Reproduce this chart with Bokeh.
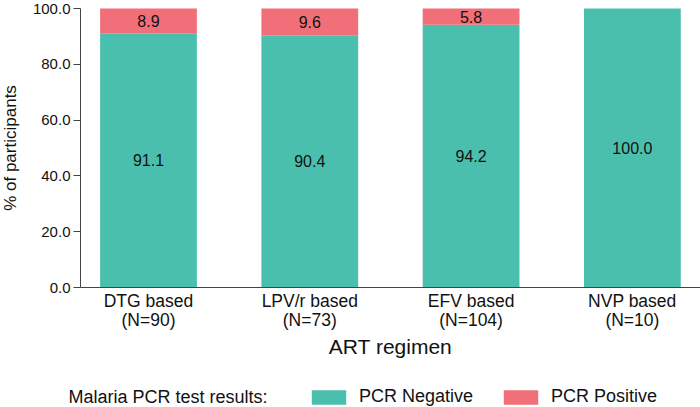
import numpy as np
from bokeh.plotting import figure
from bokeh.models import (ColumnDataSource, FixedTicker, Legend, LegendItem,
                          LabelSet, Label, Range1d)
from bokeh.core.properties import value
from bokeh.embed import file_html
from bokeh.resources import INLINE

# ---- data ----
categories = ["DTG based\n(N=90)", "LPV/r based\n(N=73)",
              "EFV based\n(N=104)", "NVP based\n(N=10)"]
pcr_negative = [91.1, 90.4, 94.2, 100.0]
pcr_positive = [8.9, 9.6, 5.8, 0.0]
y_ticks = [0, 20, 40, 60, 80, 100]
series_names = ["PCR Negative", "PCR Positive"]
legend_title = "Malaria PCR test results:"

FONT = "Liberation Sans"
TEAL = "#4bbfad"
SALMON = "#f06f78"
TXT = "#111111"
AX = "#444444"

W, H = 700, 407
# view window (data units) chosen so that the axes sit where the reference has them
X0, X1 = -0.9175, 3.4223
Y0, Y1 = -43.01, 102.87
Y_AXIS_AT = -0.4216

x = np.arange(len(categories))
src = ColumnDataSource(dict(x=x, neg=pcr_negative, pos=pcr_positive))

p = figure(width=W, height=H, output_backend="svg", toolbar_location=None,
           x_range=Range1d(X0, X1), y_range=Range1d(Y0, Y1),
           min_border=0)
p.outline_line_color = None
p.grid.visible = False

rs = p.vbar_stack(["neg", "pos"], x="x", width=0.6, source=src,
                  color=[TEAL, SALMON], line_color=None)

# labels inside segments
neg_arr = np.array(pcr_negative)
pos_arr = np.array(pcr_positive)
lab_x = list(x) + [xi for xi, v in zip(x, pos_arr) if v > 0]
lab_y = list(neg_arr / 2) + [n + v / 2 for n, v in zip(neg_arr, pos_arr) if v > 0]
lab_t = [f"{v:.1f}" for v in neg_arr] + [f"{v:.1f}" for v in pos_arr if v > 0]
lsrc = ColumnDataSource(dict(x=lab_x, y=lab_y, t=lab_t))
p.add_layout(LabelSet(x="x", y="y", text="t", source=lsrc,
                      text_align="center", text_baseline="middle",
                      text_font=value(FONT), text_font_size="16px",
                      text_color=TXT))

# axes (pinned at the data origin)
xa = p.xaxis[0]
xa.fixed_location = 0
xa.bounds = (Y_AXIS_AT, X1)
xa.ticker = FixedTicker(ticks=list(x))
xa.major_label_overrides = {int(i): c for i, c in zip(x, categories)}
xa.major_tick_line_color = None
xa.minor_tick_line_color = None
xa.major_tick_out = 0
xa.major_tick_in = 0
xa.major_label_standoff = 3
xa.major_label_text_font = FONT
xa.major_label_text_font_size = "17.5px"
xa.major_label_text_line_height = 0.95
xa.major_label_text_color = TXT
xa.axis_label = "ART regimen"
xa.axis_label_text_font = FONT
xa.axis_label_text_font_size = "21px"
xa.axis_label_text_font_style = "normal"
xa.axis_label_text_color = TXT
xa.axis_label_standoff = 2
xa.axis_line_color = AX

ya = p.yaxis[0]
ya.fixed_location = Y_AXIS_AT
ya.bounds = (0, 100)
ya.ticker = FixedTicker(ticks=y_ticks)
ya.major_label_overrides = {t: f"{t:.1f}" for t in y_ticks}
ya.minor_tick_line_color = None
ya.major_tick_out = 7
ya.major_tick_in = 0
ya.major_tick_line_color = AX
ya.axis_line_color = AX
ya.major_label_standoff = 3
ya.major_label_text_font = FONT
ya.major_label_text_font_size = "15px"
ya.major_label_text_color = TXT
ya.axis_label = "% of participants"
ya.axis_label_text_font = FONT
ya.axis_label_text_font_size = "17px"
ya.axis_label_text_font_style = "normal"
ya.axis_label_text_color = TXT
ya.axis_label_standoff = 10

# legend
legend = Legend(items=[LegendItem(label=n, renderers=[r]) for n, r in zip(series_names, rs)],
                orientation="horizontal", location=(307, 0),
                padding=0, margin=0, spacing=26, label_standoff=9,
                glyph_width=43, glyph_height=18,
                border_line_color=None, background_fill_alpha=0,
                label_text_font=FONT, label_text_font_size="18px",
                label_text_color=TXT)
p.add_layout(legend, "center")
p.add_layout(Label(x=68, y=11, x_units="screen", y_units="screen",
                   text=legend_title, text_font=FONT,
                   text_font_size="18px", text_baseline="middle",
                   text_color=TXT))

open("out.html", "w").write(file_html(p, INLINE))
